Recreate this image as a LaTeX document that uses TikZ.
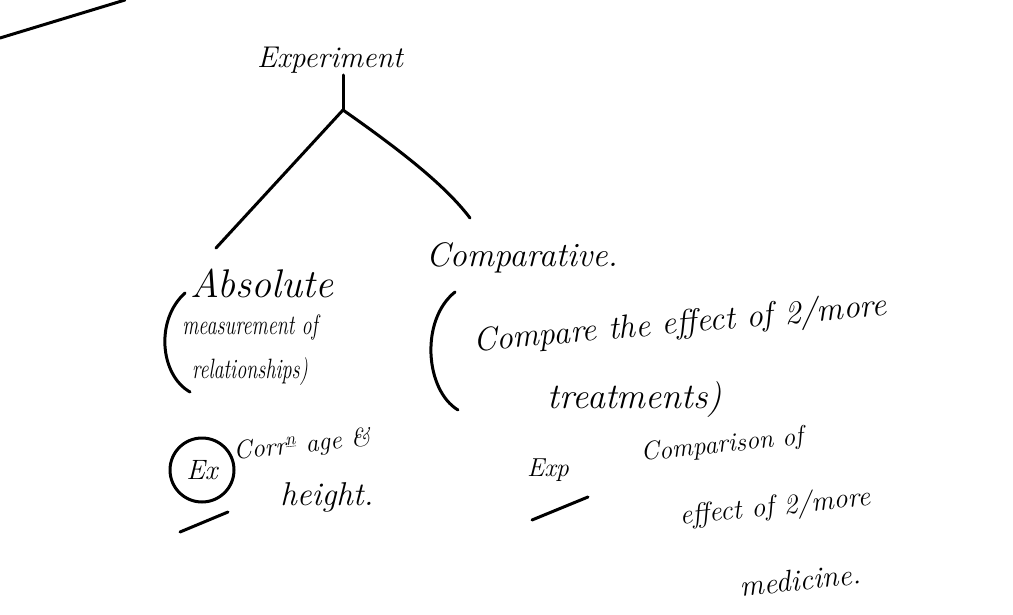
\documentclass[tikz,border=0pt]{standalone}
\usepackage{tikz}
\usepackage{graphicx}
\begin{document}
\begin{tikzpicture}[x=1pt,y=-1pt,line width=3pt,line cap=round,line join=round,
  hw/.style={font={\fontsize{#1}{#1}\selectfont\itshape},inner sep=0pt}]
\useasboundingbox (0,0) rectangle (1013,615);
% stray stroke top-left
\coordinate (s1) at (0,38);
\coordinate (s2) at (125,0);
\draw (s1) -- (s2);
% top node
\node[hw=30pt] (exp) at (330,60) {Experiment};
\coordinate (fork) at (343,110);
\coordinate (pTop) at (343,75);
\draw (pTop) -- (fork);
% level 2
\node[hw=40pt] (abs) at (262,283) {Absolute};
\node[hw=34pt] (comp) at (522,258) {Comparative.};
\coordinate (absEnd) at (216,248);
\coordinate (compEnd) at (470,218);
\draw (fork) -- (absEnd);
\draw (fork) .. controls (400,150) and (445,185) .. (compEnd);
% absolute branch
\coordinate (lp1a) at (185,293);
\coordinate (lp1b) at (190,392);
\draw (lp1a) .. controls (155,320) and (160,375) .. (lp1b);
\node[hw=28pt] (meas) at (250,327) {\scalebox{0.72}[1]{measurement of}};
\node[hw=28pt] (rel) at (250,372) {\scalebox{0.72}[1]{relationships)}};
\node[draw,circle,minimum size=64pt,inner sep=0pt,font={\fontsize{28pt}{28pt}\selectfont\itshape}] (ex) at (202,470) {Ex};
\coordinate (u1a) at (180,532);
\coordinate (u1b) at (228,512);
\draw (u1a) -- (u1b);
\node[hw=26pt,rotate=6] (corr) at (302,446) {Corr\textsuperscript{\underline{n}} age \&};
\node[hw=33pt] (height) at (327,497) {height.};
% comparative branch
\coordinate (lp2a) at (455,292);
\coordinate (lp2b) at (458,410);
\draw (lp2a) .. controls (420,320) and (425,390) .. (lp2b);
\node[hw=33pt,rotate=5] (cmp) at (680,325) {Compare the effect of 2/more};
\node[hw=36pt] (treat) at (635,400) {treatments)};
\node[hw=26pt] (exp2) at (548,470) {Exp};
\coordinate (u2a) at (532,520);
\coordinate (u2b) at (588,497);
\draw (u2a) -- (u2b);
\node[hw=26pt,rotate=6] (cpn) at (722,446) {Comparison of};
\node[hw=28pt,rotate=6] (eff) at (775,508) {effect of 2/more};
\node[hw=30pt,rotate=6] (med) at (800,580) {medicine.};
\end{tikzpicture}
\end{document}
